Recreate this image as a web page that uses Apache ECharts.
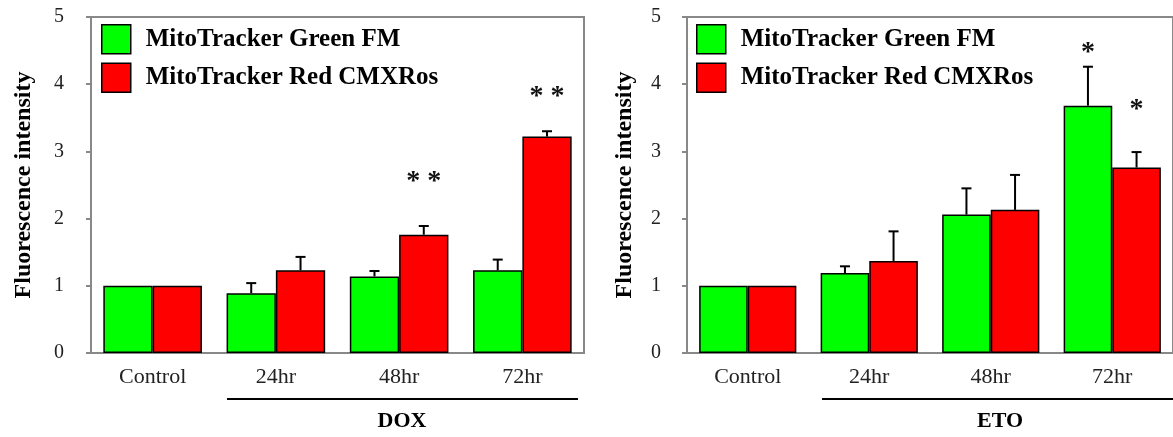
<!DOCTYPE html>
<html>
<head>
<meta charset="utf-8">
<script src="https://cdn.jsdelivr.net/npm/echarts@6/dist/echarts.min.js"></script>
<style>
  html, body { margin: 0; padding: 0; background: #fff; }
  #chart { width: 1173px; height: 437px; }
</style>
</head>
<body>
<div id="chart"></div>
<script>
var categories = ['Control', '24hr', '48hr', '72hr'];
var seriesNames = ['MitoTracker Green FM', 'MitoTracker Red CMXRos'];

// DOX panel (mean and upper error)
var doxGreen = [1, 0.89, 1.14, 1.23];
var doxGreenErr = [0, 0.15, 0.08, 0.16];
var doxRed = [1, 1.23, 1.76, 3.22];
var doxRedErr = [0, 0.20, 0.13, 0.08];

// ETO panel
var etoGreen = [1, 1.19, 2.06, 3.68];
var etoGreenErr = [0, 0.10, 0.39, 0.58];
var etoRed = [1, 1.37, 2.13, 2.76];
var etoRedErr = [0, 0.44, 0.52, 0.23];

// significance marks: [category index, bar side (-1 green, 1 red), y value]
var doxStars = [[2, 1, 2.55], [3, 1, 3.81]];
var doxStarText = ['* *', '* *'];
var etoStars = [[3, -1, 4.47], [3, 1, 3.62]];
var etoStarText = ['*', '*'];

var yTicks = [0, 1, 2, 3, 4, 5];

var serif = "'Liberation Serif', 'Times New Roman', serif";
var green = '#00ff00';
var red = '#ff0000';

function errData(vals, errs, side) {
    var out = [];
    for (var i = 0; i < vals.length; i++) {
        if (errs[i] > 0) out.push([i, vals[i], errs[i], side]);
    }
    return out;
}

function renderErr(params, api) {
    var c = api.value(0), v = api.value(1), e = api.value(2), side = api.value(3);
    var bw = api.size([1, 0])[0];
    var p0 = api.coord([c, v]);
    var p1 = api.coord([c, v + e]);
    var x = p0[0] + side * 0.2 * bw;
    var st = { stroke: '#000', lineWidth: 2 };
    return {
        type: 'group',
        children: [
            { type: 'line', shape: { x1: x, y1: p0[1], x2: x, y2: p1[1] }, style: st },
            { type: 'line', shape: { x1: x - 5, y1: p1[1], x2: x + 5, y2: p1[1] }, style: st }
        ]
    };
}

function starRenderer(texts) {
    return function (params, api) {
        var c = api.value(0), side = api.value(1), v = api.value(2);
        var bw = api.size([1, 0])[0];
        var p = api.coord([c, v]);
        return {
            type: 'text',
            x: p[0] + side * 0.2 * bw,
            y: p[1],
            style: {
                text: texts[params.dataIndex],
                fill: '#111',
                font: 'bold 28px ' + serif,
                align: 'center',
                verticalAlign: 'middle'
            }
        };
    };
}

function barSeries(name, data, color, idx) {
    return {
        name: name,
        type: 'bar',
        xAxisIndex: idx,
        yAxisIndex: idx,
        data: data,
        barGap: '0%',
        barCategoryGap: '20%',
        itemStyle: { color: color, borderColor: '#000', borderWidth: 1.5 },
        emphasis: { disabled: true }
    };
}

function xAxisFor(idx) {
    return {
        type: 'category',
        gridIndex: idx,
        data: categories,
        axisLine: { lineStyle: { color: '#888', width: 2 } },
        axisTick: { show: false },
        axisLabel: { fontFamily: serif, fontSize: 22, color: '#222', margin: 13 }
    };
}

function yAxisFor(idx, gap, labelMargin) {
    return {
        type: 'value',
        gridIndex: idx,
        min: yTicks[0],
        max: yTicks[yTicks.length - 1],
        interval: 1,
        name: 'Fluorescence intensity',
        nameLocation: 'middle',
        nameGap: gap,
        nameTextStyle: { fontFamily: serif, fontSize: 24, fontWeight: 'bold', color: '#000' },
        axisLine: { show: true, lineStyle: { color: '#888', width: 2 } },
        axisTick: { show: true, length: 5, lineStyle: { color: '#888', width: 2 } },
        axisLabel: { fontFamily: serif, fontSize: 20, color: '#222', margin: labelMargin },
        splitLine: { show: false }
    };
}

function legendFor(left) {
    return {
        orient: 'vertical',
        left: left,
        top: 24,
        padding: 0,
        icon: 'rect',
        itemWidth: 29,
        itemHeight: 29,
        itemGap: 8,
        data: seriesNames,
        itemStyle: { borderColor: '#000', borderWidth: 1.5 },
        textStyle: { fontFamily: serif, fontSize: 25, fontWeight: 'bold', color: '#000', padding: [0, 0, 0, 10] },
        selectedMode: false
    };
}

var chart = echarts.init(document.getElementById('chart'));
var option = {
    animation: false,
    legend: [legendFor(101), legendFor(696)],
    grid: [
        { left: 91, top: 17, width: 493, bottom: 84, show: true, borderColor: '#888', borderWidth: 2 },
        { left: 687, top: 17, width: 496, bottom: 84, show: true, borderColor: '#888', borderWidth: 2 }
    ],
    xAxis: [xAxisFor(0), xAxisFor(1)],
    yAxis: [yAxisFor(0, 55, 27), yAxisFor(1, 50, 26)],
    series: [
        barSeries(seriesNames[0], doxGreen, green, 0),
        barSeries(seriesNames[1], doxRed, red, 0),
        { type: 'custom', xAxisIndex: 0, yAxisIndex: 0, renderItem: renderErr, data: errData(doxGreen, doxGreenErr, -1), z: 3 },
        { type: 'custom', xAxisIndex: 0, yAxisIndex: 0, renderItem: renderErr, data: errData(doxRed, doxRedErr, 1), z: 3 },
        { type: 'custom', xAxisIndex: 0, yAxisIndex: 0, renderItem: starRenderer(doxStarText), data: doxStars, z: 4 },
        barSeries(seriesNames[0], etoGreen, green, 1),
        barSeries(seriesNames[1], etoRed, red, 1),
        { type: 'custom', xAxisIndex: 1, yAxisIndex: 1, renderItem: renderErr, data: errData(etoGreen, etoGreenErr, -1), z: 3 },
        { type: 'custom', xAxisIndex: 1, yAxisIndex: 1, renderItem: renderErr, data: errData(etoRed, etoRedErr, 1), z: 3 },
        { type: 'custom', xAxisIndex: 1, yAxisIndex: 1, renderItem: starRenderer(etoStarText), data: etoStars, z: 4 }
    ],
    graphic: [
        { type: 'line', shape: { x1: 227, y1: 399, x2: 578, y2: 399 }, style: { stroke: '#000', lineWidth: 2 } },
        { type: 'line', shape: { x1: 822, y1: 399, x2: 1173, y2: 399 }, style: { stroke: '#000', lineWidth: 2 } },
        { type: 'text', x: 402, y: 421, style: { text: 'DOX', font: 'bold 22px ' + serif, fill: '#000', align: 'center', verticalAlign: 'middle' } },
        { type: 'text', x: 1000, y: 421, style: { text: 'ETO', font: 'bold 22px ' + serif, fill: '#000', align: 'center', verticalAlign: 'middle' } }
    ]
};
chart.setOption(option);
window.onresize = function () {
    chart.resize();
};
</script>
</body>
</html>
